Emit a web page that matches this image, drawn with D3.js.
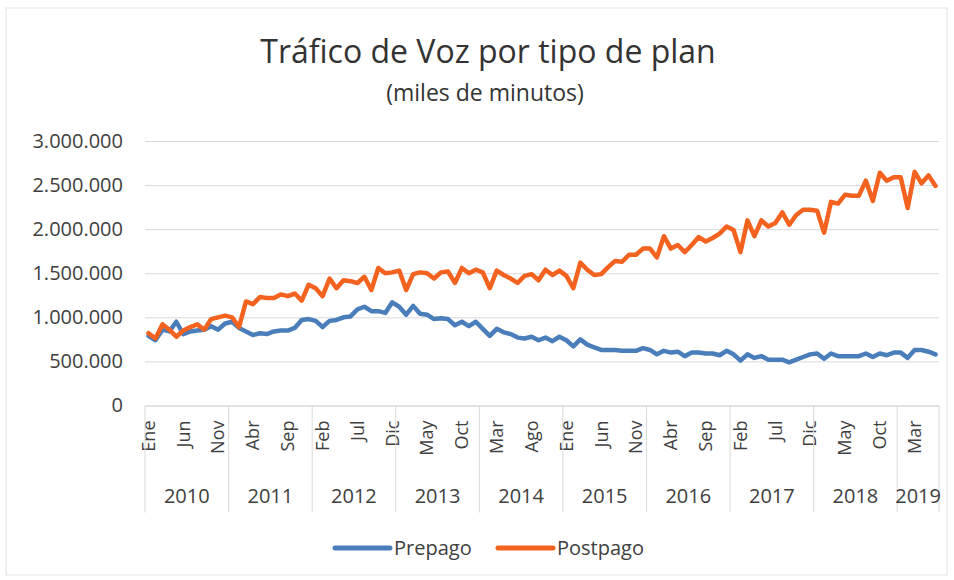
<!DOCTYPE html>
<html>
<head>
<meta charset="utf-8">
<script src="https://cdn.jsdelivr.net/npm/d3@7"></script>
<style>
  body { margin: 0; background: #fff; font-family: "Open Sans", sans-serif; }
</style>
</head>
<body>
<svg id="chart" width="954" height="580"></svg>
<script>
// datos: trafico de voz mensual, miles de minutos (Ene 2010 - Jun 2019)
let meses = ["Ene","Feb","Mar","Abr","May","Jun","Jul","Ago","Sep","Oct","Nov","Dic"];
let anios = [2010, 2011, 2012, 2013, 2014, 2015, 2016, 2017, 2018, 2019];
let yTicks = [0, 500000, 1000000, 1500000, 2000000, 2500000, 3000000];

let prepago = [
  790000, 740000, 860000, 840000, 950000, 810000, 840000, 850000, 860000, 900000, 860000, 930000,
  950000, 880000, 840000, 800000, 820000, 810000, 840000, 850000, 850000, 880000, 970000, 980000,
  960000, 890000, 960000, 970000, 1000000, 1010000, 1090000, 1120000, 1070000, 1070000, 1050000, 1170000,
  1120000, 1030000, 1130000, 1040000, 1030000, 980000, 990000, 980000, 910000, 950000, 900000, 950000,
  870000, 790000, 870000, 830000, 810000, 770000, 760000, 780000, 740000, 770000, 730000, 780000,
  740000, 670000, 750000, 690000, 660000, 630000, 630000, 630000, 620000, 620000, 620000, 650000,
  630000, 580000, 620000, 600000, 610000, 560000, 600000, 600000, 590000, 590000, 570000, 620000,
  580000, 510000, 580000, 540000, 560000, 520000, 520000, 520000, 490000, 520000, 550000, 580000,
  590000, 530000, 590000, 560000, 560000, 560000, 560000, 590000, 550000, 590000, 570000, 600000,
  600000, 540000, 630000, 630000, 610000, 580000
];

let postpago = [
  820000, 760000, 920000, 860000, 780000, 850000, 890000, 920000, 860000, 980000, 1000000, 1020000,
  1000000, 890000, 1180000, 1150000, 1230000, 1220000, 1220000, 1260000, 1240000, 1270000, 1190000, 1370000,
  1330000, 1240000, 1440000, 1330000, 1420000, 1410000, 1390000, 1460000, 1310000, 1560000, 1500000, 1510000,
  1530000, 1310000, 1490000, 1510000, 1500000, 1440000, 1510000, 1520000, 1390000, 1560000, 1500000, 1540000,
  1510000, 1330000, 1530000, 1480000, 1440000, 1390000, 1470000, 1490000, 1420000, 1540000, 1480000, 1530000,
  1470000, 1330000, 1620000, 1540000, 1480000, 1490000, 1570000, 1640000, 1630000, 1710000, 1710000, 1780000,
  1780000, 1680000, 1920000, 1780000, 1820000, 1740000, 1820000, 1910000, 1860000, 1900000, 1950000, 2030000,
  1990000, 1740000, 2100000, 1920000, 2100000, 2030000, 2070000, 2190000, 2050000, 2160000, 2220000, 2220000,
  2210000, 1960000, 2310000, 2290000, 2390000, 2380000, 2380000, 2550000, 2320000, 2640000, 2550000, 2590000,
  2590000, 2240000, 2650000, 2520000, 2610000, 2490000
];

let series = [
  {nombre: "Prepago", valores: prepago, color: "#4a7ebb"},
  {nombre: "Postpago", valores: postpago, color: "#f4621f"}
];

let svg = d3.select("#chart"),
    width = + svg.attr("width"),
    height = + svg.attr("height"),
    margin = {top: 141, right: 15, bottom: 174.5, left: 145},
    innerW = 939 - margin.left,
    innerH = height - margin.top - margin.bottom,
    grid_color = "#d9d9d9",
    text_color = "#404040";

// marco del grafico
svg.append("rect")
   .attr("x", 6).attr("y", 8)
   .attr("width", 941).attr("height", 567)
   .attr("fill", "#fff")
   .attr("stroke", "#e3e3e3");

// categorias (mes de cada punto)
let categorias = [];
anios.forEach(function(a){
  meses.forEach(function(m){ categorias.push({anio: a, mes: m}); });
});
categorias = categorias.slice(0, prepago.length);

let g = svg.append("g").attr("transform", "translate(" + margin.left + "," + margin.top + ")");

let x = d3.scaleBand()
          .domain(d3.range(categorias.length))
          .range([0, innerW])
          .padding(0);

let y = d3.scaleLinear()
          .domain([0, 3000000])
          .range([innerH, 0]);

let locale = d3.formatLocale({decimal: ",", thousands: ".", grouping: [3], currency: ["$", ""]});
let fmt = locale.format(",d");

// eje y + lineas de cuadricula
let yAxis = g.append("g")
   .call(d3.axisLeft(y).tickValues(yTicks).tickSize(-innerW).tickPadding(22).tickFormat(fmt));
yAxis.select(".domain").remove();
yAxis.selectAll(".tick line").attr("stroke", grid_color).attr("stroke-width", 1);
yAxis.selectAll(".tick text")
     .style("font-family", "Open Sans")
     .style("font-size", "20px")
     .attr("fill", text_color);

// eje x: meses cada 5
let xAxis = g.append("g")
   .attr("transform", "translate(0," + innerH + ")")
   .call(d3.axisBottom(x)
           .tickValues(d3.range(0, categorias.length, 5))
           .tickSize(0)
           .tickFormat(function(i){ return categorias[i].mes; }));
xAxis.select(".domain").attr("stroke", grid_color);
xAxis.selectAll(".tick text")
     .style("font-family", "Open Sans")
     .style("font-size", "18px")
     .attr("fill", text_color)
     .attr("text-anchor", "end")
     .attr("transform", "rotate(-90)")
     .attr("x", -15)
     .attr("y", 0)
     .attr("dy", "0.35em");

// separadores y etiquetas de anio
let porAnio = d3.groups(categorias.map(function(c, i){ return {anio: c.anio, i: i}; }), function(d){ return d.anio; });
let sep = porAnio.map(function(d){ return x(d[1][0].i); });
sep.push(x(categorias.length - 1) + x.bandwidth());

g.selectAll(".sep")
 .data(sep)
 .enter().append("line")
   .attr("class", "sep")
   .attr("x1", function(d){ return d; })
   .attr("x2", function(d){ return d; })
   .attr("y1", innerH)
   .attr("y2", innerH + 107)
   .attr("stroke", grid_color);

g.selectAll(".anio")
 .data(porAnio)
 .enter().append("text")
   .attr("class", "anio")
   .attr("x", function(d){
     let a = d[1][0].i, b = d[1][d[1].length - 1].i;
     return (x(a) + x(b) + x.bandwidth()) / 2;
   })
   .attr("y", innerH + 97)
   .attr("text-anchor", "middle")
   .style("font-family", "Open Sans")
   .style("font-size", "20px")
   .attr("fill", text_color)
   .text(function(d){ return d[0]; });

// lineas
let line = d3.line()
   .x(function(d, i){ return x(i) + x.bandwidth() / 2; })
   .y(function(d){ return y(d); });

g.selectAll(".serie")
 .data(series)
 .enter().append("path")
   .attr("class", "serie")
   .attr("fill", "none")
   .attr("stroke", function(d){ return d.color; })
   .attr("stroke-width", 4.5)
   .attr("stroke-linejoin", "round")
   .attr("stroke-linecap", "round")
   .attr("d", function(d){ return line(d.valores); });

// titulo
svg.append("text")
   .attr("x", 488).attr("y", 63)
   .attr("text-anchor", "middle")
   .style("font-family", "Open Sans")
   .style("font-size", "32px")
   .attr("fill", "#333")
   .text("Tráfico de Voz por tipo de plan");

svg.append("text")
   .attr("x", 485).attr("y", 101)
   .attr("text-anchor", "middle")
   .style("font-family", "Open Sans")
   .style("font-size", "23px")
   .attr("fill", "#333")
   .text("(miles de minutos)");

// leyenda
let legend = svg.append("g").attr("transform", "translate(335,548)");
let li = legend.selectAll(".ley")
   .data(series)
   .enter().append("g")
   .attr("class", "ley")
   .attr("transform", function(d, i){ return "translate(" + (i * 163) + ",0)"; });
li.append("line")
  .attr("x1", 0).attr("x2", 55)
  .attr("stroke", function(d){ return d.color; })
  .attr("stroke-width", 5)
  .attr("stroke-linecap", "round");
li.append("text")
  .attr("x", 59).attr("y", 0).attr("dy", "0.35em")
  .style("font-family", "Open Sans")
  .style("font-size", "20px")
  .attr("fill", text_color)
  .text(function(d){ return d.nombre; });
</script>
</body>
</html>
